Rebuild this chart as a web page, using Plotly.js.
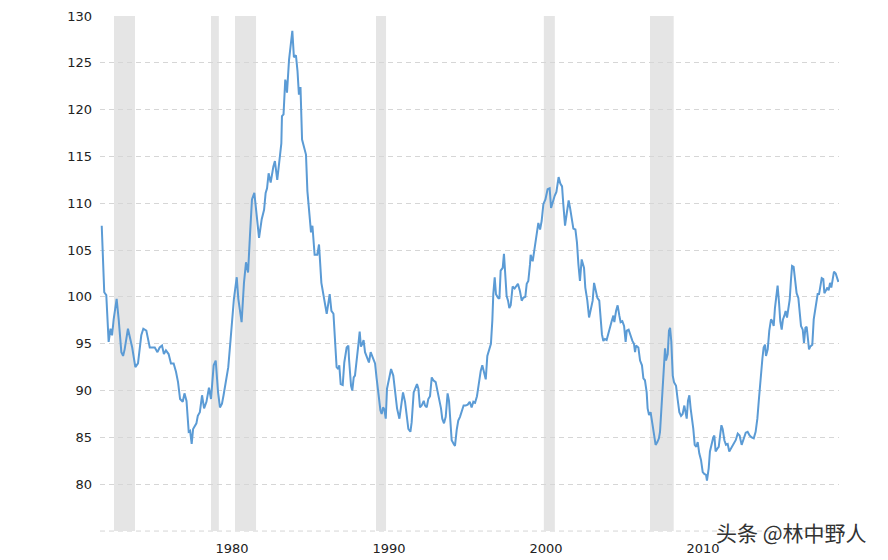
<!DOCTYPE html>
<html>
<head>
<meta charset="utf-8">
<script src="https://cdn.plot.ly/plotly-3.0.1.min.js"></script>
<style>
  html, body { margin: 0; padding: 0; background: #fff; }
  #chart { width: 888px; height: 560px; }
</style>
</head>
<body>
<div id="chart"></div>
<script>
const years = [
  1973.04, 1973.2, 1973.33, 1973.48, 1973.6, 1973.7, 1973.8, 1973.99, 1974.12, 1974.29,
  1974.4, 1974.5, 1974.71, 1974.88, 1974.98, 1975.18, 1975.27, 1975.35, 1975.56, 1975.69,
  1975.88, 1975.99, 1976.1, 1976.42, 1976.59, 1976.73, 1976.88, 1977.0, 1977.13, 1977.3,
  1977.45, 1977.62, 1977.77, 1977.9, 1978.03, 1978.2, 1978.31, 1978.44, 1978.58, 1978.67,
  1978.77, 1978.86, 1979.07, 1979.16, 1979.29, 1979.43, 1979.56, 1979.71, 1979.87, 1980.0,
  1980.17, 1980.3, 1980.45, 1980.57, 1980.7, 1980.8, 1980.89, 1980.98,
  1981.1, 1981.25, 1981.46, 1981.64, 1981.74, 1981.95, 1982.1, 1982.23, 1982.36, 1982.48,
  1982.61, 1982.76, 1982.91, 1983.06, 1983.23, 1983.38, 1983.48, 1983.57, 1983.67, 1983.8,
  1983.97, 1984.07, 1984.22, 1984.39, 1984.48, 1984.52, 1984.62, 1984.73, 1984.8, 1984.84,
  1984.97, 1985.18, 1985.28, 1985.41, 1985.51, 1985.6, 1985.7, 1985.8, 1985.93, 1986.05,
  1986.14, 1986.27, 1986.37, 1986.46, 1986.6, 1986.77, 1986.88, 1987.03, 1987.22, 1987.37,
  1987.48, 1987.56, 1987.67, 1987.8, 1988.0, 1988.11, 1988.17, 1988.26, 1988.39, 1988.49,
  1988.64, 1988.75,
  1988.79, 1988.92, 1989.0, 1989.09, 1989.17, 1989.28, 1989.38, 1989.47, 1989.55, 1989.64,
  1989.72, 1989.81, 1989.94, 1990.06, 1990.17, 1990.28, 1990.36, 1990.45, 1990.55, 1990.66,
  1990.79, 1990.87, 1990.96, 1991.04, 1991.13, 1991.21, 1991.34, 1991.47, 1991.61, 1991.72,
  1991.85, 1992.0, 1992.1, 1992.23, 1992.36, 1992.46, 1992.57, 1992.7, 1992.78, 1992.91,
  1993.04, 1993.12, 1993.21, 1993.31, 1993.42, 1993.55, 1993.63, 1993.74, 1993.84, 1993.95,
  1994.06, 1994.16, 1994.31, 1994.4, 1994.52, 1994.65, 1994.73, 1994.84, 1994.95, 1995.07,
  1995.16, 1995.24, 1995.33, 1995.46, 1995.54, 1995.65, 1995.75, 1995.86, 1995.97, 1996.09,
  1996.22, 1996.35, 1996.48, 1996.6, 1996.71, 1996.82, 1996.94,
  1997.09, 1997.18, 1997.28, 1997.39, 1997.5, 1997.6, 1997.73, 1997.83, 1997.92, 1997.98,
  1998.07, 1998.15, 1998.28, 1998.37, 1998.45, 1998.58, 1998.66, 1998.75, 1998.83, 1998.92,
  1999.0, 1999.09, 1999.21, 1999.34, 1999.43, 1999.55, 1999.68, 1999.79, 1999.89, 2000.02,
  2000.11, 2000.21, 2000.32, 2000.36, 2000.49, 2000.62, 2000.74, 2000.85, 2000.96, 2001.06,
  2001.17, 2001.3, 2001.44, 2001.57, 2001.66, 2001.76, 2001.89, 2002.0, 2002.14, 2002.25,
  2002.36, 2002.44, 2002.55, 2002.65, 2002.78, 2002.87, 2002.97, 2003.08, 2003.21, 2003.31,
  2003.4, 2003.5, 2003.61, 2003.76, 2003.84, 2003.97, 2004.08, 2004.18, 2004.31, 2004.4,
  2004.5, 2004.61, 2004.73, 2004.82, 2004.9, 2004.99,
  2005.09, 2005.2, 2005.31, 2005.41, 2005.52, 2005.63, 2005.69, 2005.8, 2005.9, 2006.01,
  2006.09, 2006.2, 2006.31, 2006.41, 2006.48, 2006.6, 2006.73, 2006.84, 2006.94, 2007.01,
  2007.07, 2007.22, 2007.33, 2007.45, 2007.54, 2007.64, 2007.75, 2007.81, 2007.9, 2008.0,
  2008.11, 2008.22, 2008.32, 2008.43, 2008.53, 2008.6, 2008.66, 2008.75, 2008.85, 2008.92,
  2008.98, 2009.09, 2009.17, 2009.24, 2009.32, 2009.41, 2009.49, 2009.62, 2009.72, 2009.83,
  2009.94, 2010.04, 2010.15, 2010.21, 2010.3, 2010.38, 2010.47, 2010.55, 2010.64, 2010.72,
  2010.81, 2010.91, 2011.0, 2011.1, 2011.21, 2011.32, 2011.42, 2011.53, 2011.59, 2011.7,
  2011.78, 2011.89, 2011.99, 2012.06, 2012.14, 2012.25, 2012.34, 2012.42, 2012.51, 2012.59,
  2012.7, 2012.8, 2012.91, 2013.01,
  2013.27, 2013.42, 2013.55, 2013.67, 2013.8, 2013.93, 2014.06, 2014.18, 2014.31, 2014.44,
  2014.57, 2014.69, 2014.8, 2014.9, 2015.01, 2015.12, 2015.2, 2015.29, 2015.35, 2015.46,
  2015.56, 2015.67, 2015.75, 2015.84, 2015.92, 2016.01, 2016.09, 2016.18, 2016.26, 2016.35,
  2016.43, 2016.52, 2016.6, 2016.69, 2016.77, 2016.86, 2016.94, 2017.01, 2017.11, 2017.2,
  2017.3, 2017.41, 2017.49, 2017.58, 2017.69, 2017.77, 2017.86, 2017.94, 2018.03, 2018.09,
  2018.17, 2018.3, 2018.39, 2018.47, 2018.56, 2018.64, 2018.73, 2018.81, 2018.9, 2019.0,
  2019.07, 2019.17, 2019.26, 2019.34, 2019.43, 2019.51, 2019.6, 2019.68, 2019.79, 2019.87,
  2019.96
];
const index = [
  107.6, 100.5, 100.2, 95.2, 96.6, 95.9, 97.6, 99.8, 97.6, 94.1,
  93.7, 94.4, 96.6, 95.2, 94.6, 92.5, 92.7, 92.9, 95.9, 96.6,
  96.4, 95.5, 94.6, 94.6, 94.1, 94.6, 94.8, 93.9, 94.3, 93.9,
  92.9, 92.9, 92.0, 90.9, 89.1, 88.8, 89.7, 88.9, 85.6, 85.7,
  84.3, 85.9, 86.5, 87.3, 87.7, 89.5, 88.1, 88.8, 90.3, 89.1,
  92.7, 93.2, 89.8, 88.2, 88.6, 89.5, 90.5, 91.6,
  92.5, 95.5, 99.8, 102.1, 99.8, 97.3, 101.5, 103.7, 102.6, 106.5,
  110.4, 111.1, 108.6, 106.3, 108.3, 109.3, 111.1, 111.6, 113.2, 112.2,
  113.9, 114.5, 112.5, 115.0, 116.4, 119.3, 119.5, 123.2, 122.6, 121.8,
  125.3, 128.4, 125.6, 125.8, 124.1, 121.6, 122.4, 116.8, 116.1, 115.2,
  111.3, 108.6, 106.9, 107.6, 104.5, 104.5, 105.6, 101.5, 99.4, 98.2,
  99.4, 100.3, 98.5, 98.2, 92.5, 92.3, 92.7, 90.7, 90.6, 93.0,
  94.6, 94.8,
  93.4, 90.5, 90.0, 91.4, 91.6, 93.0, 94.8, 96.3, 94.7, 95.0,
  95.4, 94.1, 93.6, 93.0, 94.1, 93.6, 93.4, 92.9, 91.3, 89.5,
  87.9, 87.5, 88.2, 88.0, 87.0, 90.2, 91.1, 92.3, 91.6, 89.8,
  88.1, 87.0, 88.1, 89.8, 88.8, 87.3, 85.9, 85.6, 86.6, 89.8,
  90.5, 90.7, 90.2, 88.2, 88.4, 88.9, 88.4, 88.2, 89.1, 89.4,
  91.4, 91.1, 90.9, 90.2, 88.9, 88.1, 87.0, 86.5, 87.2, 89.7,
  88.9, 87.0, 84.7, 84.3, 84.1, 85.8, 86.8, 87.2, 87.9, 88.4,
  88.4, 88.5, 88.8, 88.2, 88.8, 88.7, 89.4,
  91.4, 92.1, 92.7, 91.8, 91.2, 93.7, 94.4, 95.0, 97.5, 100.3,
  102.1, 100.3, 99.9, 99.8, 102.8, 103.1, 104.6, 102.4, 100.1, 99.6,
  98.8, 99.1, 101.1, 100.9, 101.1, 101.4, 100.6, 99.6, 99.9, 100.0,
  101.4, 101.7, 103.5, 104.5, 103.8, 105.2, 106.7, 107.9, 107.2, 108.1,
  109.9, 110.4, 111.5, 111.6, 109.5, 110.1, 110.8, 111.2, 112.8, 112.1,
  111.8, 109.9, 107.6, 108.8, 110.3, 109.5, 108.4, 107.3, 107.2, 105.8,
  103.5, 101.7, 104.0, 103.1, 101.0, 99.6, 97.8, 98.7, 99.6, 101.5,
  100.7, 99.9, 99.6, 97.5, 96.0, 95.3,
  95.5, 95.4, 96.2, 96.6, 97.4, 98.0, 97.3, 98.5, 99.1, 98.0,
  97.3, 97.4, 96.9, 95.2, 96.4, 96.5, 95.8, 95.3, 95.0, 94.1,
  94.8, 94.6, 93.2, 92.7, 91.3, 91.1, 89.8, 88.1, 87.4, 87.7,
  86.5, 85.2, 84.2, 84.5, 84.9, 85.6, 87.4, 90.6, 93.4, 94.5,
  93.2, 93.9, 96.4, 96.7, 95.2, 91.6, 90.9, 90.5, 89.1, 87.7,
  87.3, 87.5, 88.4, 87.7, 87.0, 88.9, 89.5, 88.1, 87.0, 85.9,
  84.2, 84.0, 84.5, 83.3, 82.6, 81.3, 81.1, 81.0, 80.4, 81.7,
  83.5, 84.4, 85.0, 85.2, 83.5, 83.8, 84.0, 85.1, 86.3, 85.9,
  84.7, 84.2, 84.3, 83.5,
  84.2, 84.7, 85.4, 85.2, 84.2, 84.9, 85.5, 85.6, 85.2, 85.0,
  84.9, 85.6, 87.0, 89.1, 91.6, 93.4, 94.6, 94.9, 93.7, 94.4,
  96.4, 97.6, 97.4, 96.9, 98.8, 100.4, 101.2, 99.4, 97.4, 96.5,
  97.6, 98.0, 98.5, 97.8, 98.7, 99.7, 101.8, 103.3, 103.2, 101.8,
  100.4, 99.9, 98.5, 96.9, 96.5, 95.1, 96.7, 96.8, 95.4, 94.4,
  94.7, 94.9, 97.6, 98.5, 99.4, 100.3, 100.3, 101.1, 102.0, 101.9,
  100.4, 100.7, 101.0, 100.7, 101.5, 101.0, 101.8, 102.7, 102.5, 102.1,
  101.6
];

// Recession periods (shaded)
const recStart = [1973.82, 1980.0, 1981.53, 1990.51, 2001.2, 2007.96];
const recEnd = [1975.16, 1980.5, 1982.87, 1991.15, 2001.9, 2009.47];

// Axis ticks
const yBase = 75;
const yTickVals = [75, 80, 85, 90, 95, 100, 105, 110, 115, 120, 125, 130];
const yTickText = ['', '80', '85', '90', '95', '100', '105', '110', '115', '120', '125', '130'];
const xTickVals = [1980, 1990, 2000, 2010];
const xTickText = ['1980', '1990', '2000', '2010'];

const gridColor = '#d6d6d6';
const gridDash = '5px,4px';

const shapes = recStart.map(function (s, i) {
    return {
        type: 'rect', xref: 'x', yref: 'y',
        x0: s, x1: recEnd[i], y0: 75, y1: 130,
        fillcolor: '#e5e5e5', line: { width: 0 }, layer: 'below'
    };
});
// Plotly skips the gridline sitting on the bottom edge, so draw the 75 line here
shapes.push({
    type: 'line', xref: 'paper', yref: 'y',
    x0: 0, x1: 1, y0: yBase, y1: yBase,
    line: { color: gridColor, width: 1, dash: gridDash }, layer: 'below'
});

const trace = {
    x: years,
    y: index,
    type: 'scatter',
    mode: 'lines',
    line: { color: '#5b9bd5', width: 2 },
    hoverinfo: 'x+y'
};

const tickFont = { family: 'DejaVu Sans, Verdana, sans-serif', size: 13, color: '#222' };

const layout = {
    width: 888,
    height: 560,
    margin: { l: 100, r: 49, t: 15, b: 28 },
    paper_bgcolor: '#fff',
    plot_bgcolor: '#fff',
    showlegend: false,
    xaxis: {
        range: [1972.93, 2020.0],
        showgrid: false,
        zeroline: false,
        showline: false,
        tickvals: xTickVals,
        ticktext: xTickText,
        ticks: '',
        ticklabelshift: 21,
        ticklabelstandoff: 7,
        tickfont: tickFont
    },
    yaxis: {
        range: [74.9, 130.1],
        showgrid: true,
        gridcolor: gridColor,
        gridwidth: 1,
        griddash: gridDash,
        zeroline: false,
        showline: false,
        tickvals: yTickVals,
        ticktext: yTickText,
        ticks: '',
        ticklabelstandoff: 7,
        tickfont: tickFont
    },
    shapes: shapes,
    annotations: [{
        text: '头条 @林中野人',
        xref: 'paper', yref: 'paper',
        x: 0.936, y: 0,
        xanchor: 'center', yanchor: 'middle',
        showarrow: false,
        font: { family: 'Noto Sans CJK SC, sans-serif', size: 21, color: '#333' }
    }]
};

Plotly.newPlot('chart', [trace], layout, { displayModeBar: false, staticPlot: true });
</script>
</body>
</html>
